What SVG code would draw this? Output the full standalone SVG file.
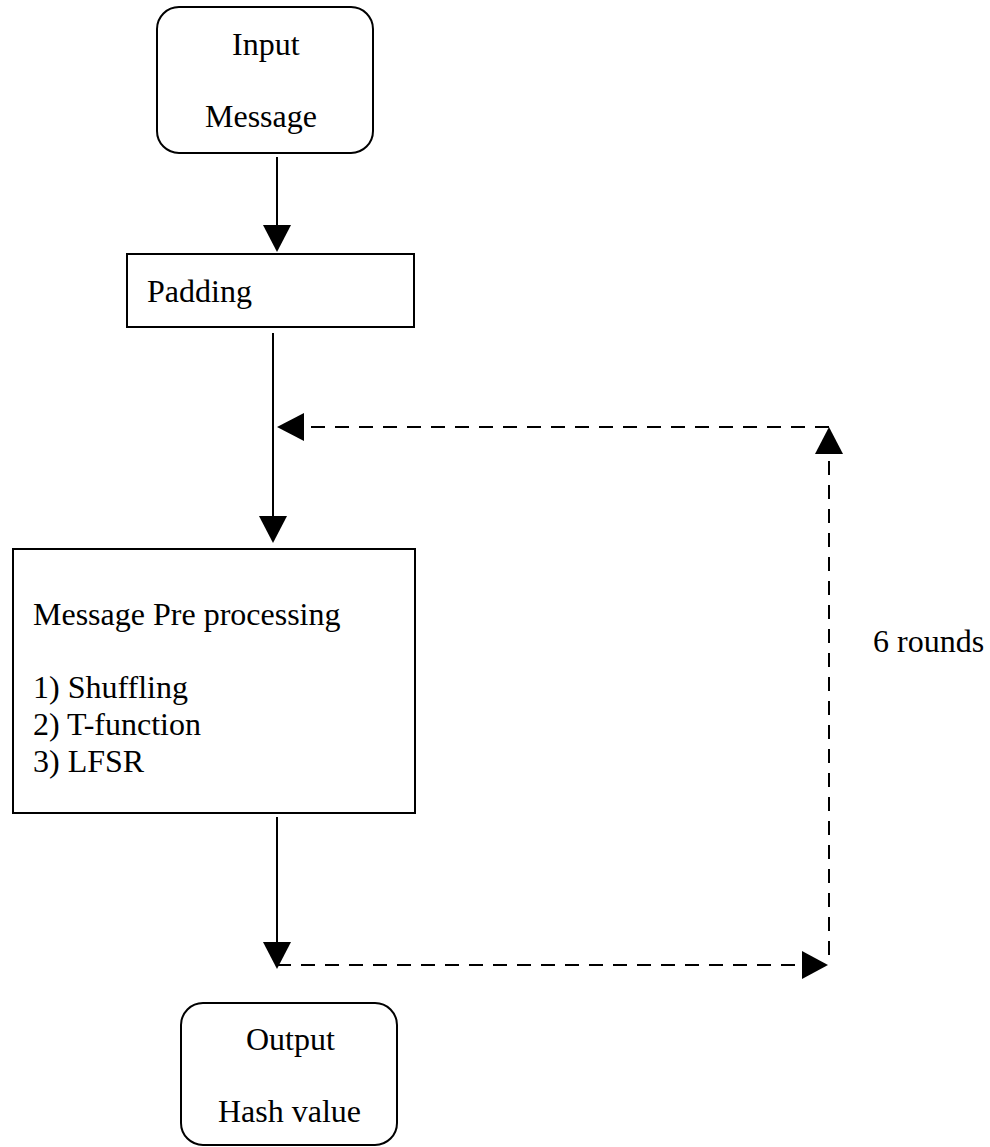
<svg xmlns="http://www.w3.org/2000/svg" width="990" height="1147" viewBox="0 0 990 1147">
<style>
.box{fill:#fff;stroke:#000;stroke-width:2}
.t{font-family:'Liberation Serif','Times New Roman',Times,serif;font-size:32px;fill:#000}
.ln{fill:none;stroke:#000;stroke-width:2}
.dash{fill:none;stroke:#000;stroke-width:2;stroke-dasharray:14 10}
.head{fill:#000}
</style>
<rect width="990" height="1147" fill="#fff"/>
<g id="input">
<rect class="box" x="157" y="7" width="216" height="146" rx="22" ry="22"/>
<text class="t" font-family="Liberation Serif, serif" x="232" y="55">Input</text>
<text class="t" font-family="Liberation Serif, serif" x="205" y="127">Message</text>
</g>
<g id="padding">
<rect class="box" x="127" y="254" width="287" height="73"/>
<text class="t" font-family="Liberation Serif, serif" x="147" y="302">Padding</text>
</g>
<g id="preprocessing">
<rect class="box" x="13" y="549" width="402" height="264"/>
<text class="t" font-family="Liberation Serif, serif" x="33" y="625">Message Pre processing</text>
<text class="t" font-family="Liberation Serif, serif" x="33" y="698">1) Shuffling</text>
<text class="t" font-family="Liberation Serif, serif" x="33" y="735">2) T-function</text>
<text class="t" font-family="Liberation Serif, serif" x="33" y="772">3) LFSR</text>
</g>
<g id="output">
<rect class="box" x="181" y="1003" width="216" height="142" rx="22" ry="22"/>
<text class="t" font-family="Liberation Serif, serif" x="246" y="1050">Output</text>
<text class="t" font-family="Liberation Serif, serif" x="218" y="1122">Hash value</text>
</g>
<g id="label-rounds">
<text class="t" font-family="Liberation Serif, serif" x="873" y="652">6 rounds</text>
</g>
<g id="connectors">
<line class="ln" x1="277" y1="157" x2="277" y2="226"/>
<polygon class="head" points="263,225 291,225 277,252"/>
<line class="ln" x1="273" y1="333" x2="273" y2="517"/>
<polygon class="head" points="259,516 287,516 273,543"/>
<line class="dash" x1="829" y1="427" x2="304" y2="427"/>
<polygon class="head" points="277,427 304,413 304,441"/>
<line class="ln" x1="277" y1="817" x2="277" y2="943"/>
<polygon class="head" points="263,942 291,942 277,969"/>
<line class="dash" x1="277" y1="965" x2="802" y2="965"/>
<polygon class="head" points="828,965 802,951 802,979"/>
<line class="dash" x1="829" y1="955" x2="829" y2="454"/>
<polygon class="head" points="829,427 815,454 843,454"/>
</g>
</svg>
